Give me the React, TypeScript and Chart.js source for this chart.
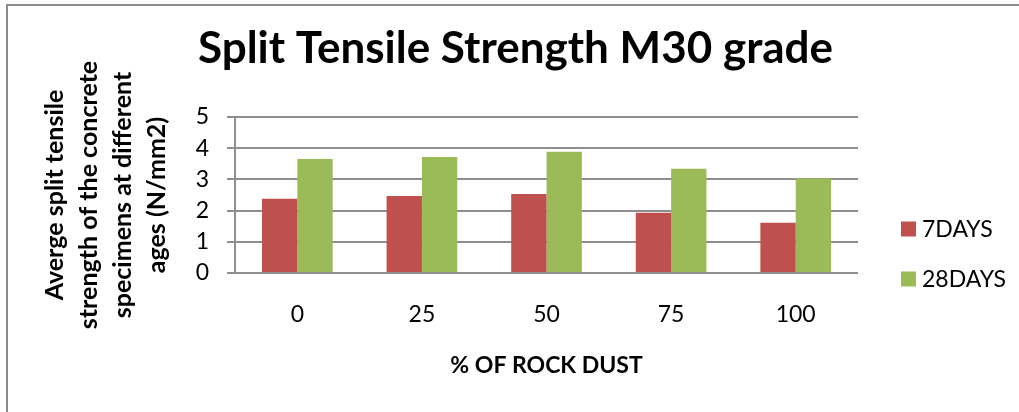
import React, { useEffect, useRef } from "react";
import { Chart, registerables } from "chart.js";

Chart.register(...registerables);

const categories = ["0", "25", "50", "75", "100"];
const days7 = [2.38, 2.47, 2.53, 1.93, 1.61];
const days28 = [3.65, 3.72, 3.89, 3.34, 3.03];
const seriesLabels = ["7DAYS", "28DAYS"];
const yMin = 0;
const yMax = 5;
const yStep = 1;

const chartTitle = "Split Tensile Strength M30 grade";
const xTitle = "% OF ROCK DUST";
const yTitle = [
  "Averge split tensile",
  "strength of the concrete",
  "specimens at different",
  "ages (N/mm2)",
];

const FONT = "Lato";
const GRID = "#8e8e8e";

// Legend drawn beside the plot, one coloured square per dataset
const sideLegend = {
  id: "sideLegend",
  afterDraw(chart: any) {
    const { ctx, chartArea } = chart;
    const size = 15;
    const gap = 50;
    const x = chartArea.right + 43;
    const y0 = chartArea.bottom - 44;
    ctx.save();
    ctx.font = `23px ${FONT}`;
    ctx.textBaseline = "middle";
    ctx.textAlign = "left";
    chart.data.datasets.forEach((ds: any, i: number) => {
      const cy = y0 + i * gap;
      ctx.fillStyle = ds.backgroundColor;
      ctx.fillRect(x, cy - size / 2, size, size);
      ctx.fillStyle = "#000";
      ctx.fillText(ds.label, x + size + 6, cy + 1);
    });
    ctx.restore();
  },
};

export default function App() {
  const ref = useRef<HTMLCanvasElement>(null);

  useEffect(() => {
    if (!ref.current) return;
    const chart = new Chart(ref.current, {
      type: "bar",
      data: {
        labels: categories,
        datasets: [
          {
            label: seriesLabels[0],
            data: days7,
            backgroundColor: "#C0504D",
            barPercentage: 1,
            categoryPercentage: 0.567,
          },
          {
            label: seriesLabels[1],
            data: days28,
            backgroundColor: "#9BBB59",
            barPercentage: 1,
            categoryPercentage: 0.567,
          },
        ],
      },
      options: {
        responsive: false,
        animation: false,
        devicePixelRatio: 1,
        layout: { padding: { left: 12, right: 0, top: 0, bottom: 32.7 } },
        plugins: {
          legend: { display: false },
          tooltip: { enabled: false },
          title: {
            display: true,
            text: chartTitle,
            color: "#000",
            font: { family: FONT, size: 44, weight: "bold" },
            padding: { top: 22, bottom: 42.2 },
          },
        },
        scales: {
          x: {
            grid: { display: false, drawTicks: false },
            border: { display: false },
            ticks: {
              color: "#000",
              padding: 28,
              font: { family: FONT, size: 23 },
            },
            title: {
              display: true,
              text: xTitle,
              color: "#000",
              font: { family: FONT, size: 23, weight: "bold" },
              padding: { top: -4.9, bottom: 0 },
            },
          },
          y: {
            min: yMin,
            max: yMax,
            grid: {
              color: GRID,
              lineWidth: 2,
              tickLength: 8,
              drawTicks: true,
            },
            border: { display: true, color: GRID, width: 2 },
            ticks: {
              stepSize: yStep,
              autoSkip: false,
              color: "#000",
              padding: 18,
              font: { family: FONT, size: 23 },
            },
            title: {
              display: true,
              text: yTitle,
              color: "#000",
              font: { family: FONT, size: 25, weight: "bold", lineHeight: 34 / 25 },
              padding: { top: 26, bottom: 3.7 },
            },
          },
          // empty right-hand column that keeps room for the legend
          legendSpace: {
            position: "right",
            display: true,
            grid: { display: false, drawTicks: false },
            border: { display: false },
            ticks: { display: false },
            afterFit: (scale: any) => {
              scale.width = 161;
            },
          },
        },
      },
      plugins: [sideLegend],
    });
    return () => chart.destroy();
  }, []);

  return (
    <div style={{ position: "fixed", left: 0, top: 0, width: 1019, height: 412, background: "#fff" }}>
      <div style={{ position: "absolute", left: 6, top: 4, width: 1013, height: 2, background: "#8c8c8c" }} />
      <div style={{ position: "absolute", left: 6, top: 4, width: 2, height: 408, background: "#8c8c8c" }} />
      <canvas
        ref={ref}
        width={1019}
        height={412}
        style={{ position: "absolute", left: 0, top: 0, display: "block" }}
      />
    </div>
  );
}
